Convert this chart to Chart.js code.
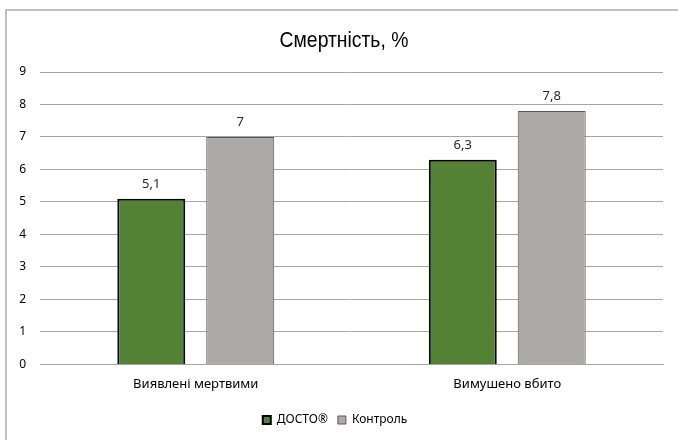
<!DOCTYPE html>
<html>
<head>
<meta charset="utf-8">
<script src="https://cdn.jsdelivr.net/npm/chart.js@4"></script>
<style>
	body { margin: 0; background: #fff; }
	#frame { position: absolute; left: 5px; top: 9px; width: 720px; height: 480px; border-left: 2px solid #bfbfbf; border-top: 2px solid #bfbfbf; }
	#chartBox { position: absolute; left: 0; top: 0; width: 678px; height: 440px; }
</style>
</head>
<body>
<div id="frame"></div>
<div id="chartBox"><canvas id="mortalityChart" width="678" height="440"></canvas></div>
<script>
var categories = ["Виявлені мертвими", "Вимушено вбито"];
var dostoValues = [5.1, 6.3];
var controlValues = [7, 7.8];
var seriesNames = ["ДОСТО®", "Контроль"];
var yTicks = [0, 1, 2, 3, 4, 5, 6, 7, 8, 9];
var chartTitle = "Смертність, %";

var tickFont = { family: "'Noto Sans', 'Open Sans', sans-serif", size: 12 };

// title in a narrow face (Arial Narrow look), squeezed horizontally
const narrowTitle = {
	id: 'narrowTitle',
	afterDraw(chart){
		const ctx = chart.ctx;
		ctx.save();
		ctx.font = "22px 'Liberation Sans', Arial, sans-serif";
		ctx.fillStyle = '#000';
		ctx.textAlign = 'center';
		ctx.textBaseline = 'alphabetic';
		ctx.translate(344, 47);
		ctx.scale(0.88, 1);
		ctx.fillText(chartTitle, 0, 0);
		ctx.restore();
	}
};

// value labels above bars, with a decimal comma
const valueLabels = {
	id: 'valueLabels',
	afterDatasetsDraw(chart){
		const ctx = chart.ctx;
		ctx.save();
		ctx.font = "13px 'Noto Sans', 'Open Sans', sans-serif";
		ctx.fillStyle = '#262626';
		ctx.textAlign = 'center';
		ctx.textBaseline = 'bottom';
		chart.data.datasets.forEach(function(ds, i){
			chart.getDatasetMeta(i).data.forEach(function(bar, j){
				ctx.fillText(String(ds.data[j]).replace('.', ','), bar.x, bar.y - 8);
			});
		});
		ctx.restore();
	}
};

const data = {
	labels: categories,
	datasets: [{
		label: seriesNames[0],
		data: dostoValues,
		backgroundColor: '#548235',
		borderColor: '#000000',
		borderWidth: 2,
		categoryPercentage: 0.571,
		barPercentage: 0.764
	}, {
		label: seriesNames[1],
		data: controlValues,
		backgroundColor: '#aeaaaa',
		borderColor: '#595959',
		borderWidth: 1,
		categoryPercentage: 0.571,
		barPercentage: 0.764
	}]
};

const options = {
	responsive: false,
	animation: false,
	layout: { padding: { left: 7, right: 15, top: 72, bottom: 4 } },
	plugins: {
		title: { display: false },
		legend: {
			position: 'bottom',
			labels: {
				color: '#000',
				font: tickFont,
				boxWidth: 8,
				boxHeight: 8,
				padding: 10
			}
		},
		tooltip: { enabled: false }
	},
	scales: {
		x: {
			afterFit(scale){ scale.height += 8; },
			grid: { display: false },
			border: { color: '#a6a6a6' },
			ticks: { color: '#000', font: { family: tickFont.family, size: 13 }, padding: 4 }
		},
		y: {
			min: 0,
			max: 9,
			afterFit(scale){ scale.width = 33; },
			afterBuildTicks(scale){ scale.ticks = yTicks.map(v => ({ value: v })); },
			grid: { color: '#a6a6a6', drawTicks: false },
			border: { display: false },
			ticks: { color: '#000', font: tickFont, padding: 14, align: 'center' }
		}
	}
};

new Chart(document.getElementById('mortalityChart'), {
	type: 'bar',
	data: data,
	options: options,
	plugins: [valueLabels, narrowTitle]
});
</script>
</body>
</html>
